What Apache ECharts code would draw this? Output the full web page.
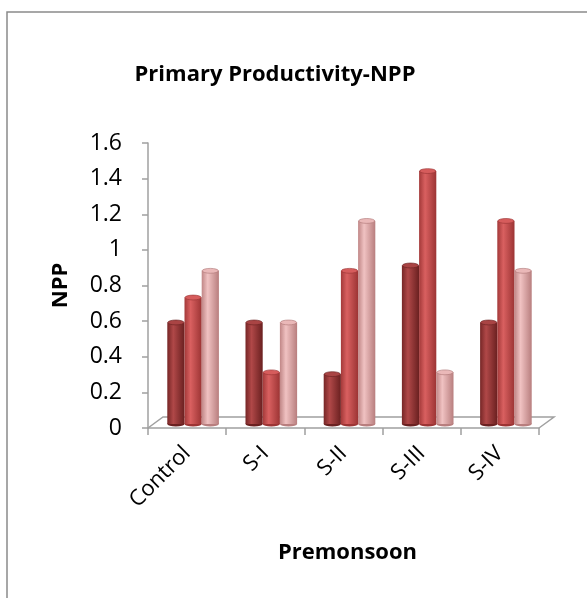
<!DOCTYPE html>
<html>
<head>
<meta charset="utf-8">
<script src="https://cdn.jsdelivr.net/npm/echarts@6/dist/echarts.min.js"></script>
<style>html,body{margin:0;padding:0;background:#fff}#c{width:587px;height:598px}</style>
</head>
<body>
<div id="c"></div>
<script>
const categories = ['Control', 'S-I', 'S-II', 'S-III', 'S-IV'];
const series1 = [0.57, 0.57, 0.28, 0.89, 0.57];
const series2 = [0.71, 0.29, 0.86, 1.42, 1.14];
const series3 = [0.86, 0.57, 1.14, 0.29, 0.86];
const yTicks = { min: 0, max: 1.6, interval: 0.2 };

const FONT = '"Open Sans", "Liberation Sans", sans-serif';
const palettes = [
  { l: '#762626', m: '#b04848', r: '#6a2020', top: '#a94444', edge: '#6a2222' },
  { l: '#a33939', m: '#d96060', r: '#9c3434', top: '#d65c5c', edge: '#9a3434' },
  { l: '#c08686', m: '#f0c2c2', r: '#b87e7e', top: '#eab8b8', edge: '#b07878' }
];
const DX = 6, DY = -4;

function cylinder(sIdx) {
  return function (params, api) {
    const idx = api.value(0), val = api.value(1);
    const base = api.coord([idx, 0]);
    const top = api.coord([idx, val]);
    const band = api.size([1, 0])[0];
    const bw = band * 0.22;
    const x0 = base[0] - 1.5 * bw + sIdx * bw + DX;
    const yb = base[1] + DY, yt = top[1] + DY;
    const p = palettes[sIdx];
    const grad = new echarts.graphic.LinearGradient(0, 0, 1, 0, [
      { offset: 0, color: p.l }, { offset: 0.35, color: p.m }, { offset: 1, color: p.r }
    ]);
    const ry = 0.3;
    return {
      type: 'group',
      children: [
        { type: 'circle', x: x0 + bw / 2, y: yb, scaleY: ry, shape: { cx: 0, cy: 0, r: bw / 2 }, style: { fill: p.r } },
        { type: 'rect', shape: { x: x0, y: yt, width: bw, height: yb - yt }, style: { fill: grad } },
        { type: 'circle', x: x0 + bw / 2, y: yt, scaleY: ry, shape: { cx: 0, cy: 0, r: bw / 2 - 0.5 }, style: { fill: p.top, stroke: p.edge, lineWidth: 1 } }
      ]
    };
  };
}

function floor(params, api) {
  const band = api.size([1, 0])[0];
  const a = api.coord([0, 0]), b = api.coord([categories.length - 1, 0]);
  const xl = a[0] - band / 2, xr = b[0] + band / 2, y = a[1];
  return {
    type: 'polyline',
    shape: { points: [[xl, y], [xl + 15, y - 11], [xr + 15, y - 11], [xr, y]] },
    style: { stroke: '#a0a0a0', lineWidth: 1.5, fill: null }
  };
}

const chart = echarts.init(document.getElementById('c'), null, { renderer: 'canvas' });
const mk = arr => arr.map((v, i) => [i, v]);
chart.setOption({
  animation: false,
  backgroundColor: '#fff',
  textStyle: { fontFamily: FONT },
  title: {
    text: 'Primary Productivity-NPP', left: 270, top: 59, textAlign: 'center',
    textStyle: { fontFamily: FONT, fontWeight: 'bold', fontSize: 22, color: '#000' }
  },
  graphic: [{ type: 'rect', x: 0, y: 0, shape: { x: 7, y: 12, width: 700, height: 700 }, style: { fill: null, stroke: '#8a8a8a', lineWidth: 1.5 }, silent: true }],
  grid: { left: 148, right: 48, top: 143, bottom: 170, containLabel: false },
  xAxis: {
    type: 'category', data: categories, boundaryGap: true,
    name: 'Premonsoon', nameLocation: 'middle', nameGap: 114,
    nameTextStyle: { fontFamily: FONT, fontWeight: 'bold', fontSize: 22, color: '#000', padding: [0, 0, 0, 8] },
    axisLine: { lineStyle: { color: '#a0a0a0', width: 1.5 } },
    axisTick: { show: true, length: 7, alignWithLabel: false, lineStyle: { color: '#a0a0a0', width: 1.5 } },
    axisLabel: { rotate: 45, margin: 22, fontSize: 22, color: '#000', fontFamily: FONT }
  },
  yAxis: {
    type: 'value', min: yTicks.min, max: yTicks.max, interval: yTicks.interval,
    name: 'NPP', nameLocation: 'middle', nameGap: 76, nameRotate: 90,
    nameTextStyle: { fontFamily: FONT, fontWeight: 'bold', fontSize: 22, color: '#000' },
    axisLine: { show: true, lineStyle: { color: '#a0a0a0', width: 1.5 } },
    axisTick: { show: true, length: 6, lineStyle: { color: '#a0a0a0', width: 1.5 } },
    splitLine: { show: false },
    axisLabel: { fontSize: 23, color: '#000', margin: 26, fontFamily: FONT }
  },
  series: [
    { type: 'custom', renderItem: floor, data: [[0, 0]], z: 1, silent: true },
    { type: 'custom', name: 'S1', renderItem: cylinder(0), data: mk(series1), z: 2 },
    { type: 'custom', name: 'S2', renderItem: cylinder(1), data: mk(series2), z: 3 },
    { type: 'custom', name: 'S3', renderItem: cylinder(2), data: mk(series3), z: 4 }
  ]
});
</script>
</body>
</html>
